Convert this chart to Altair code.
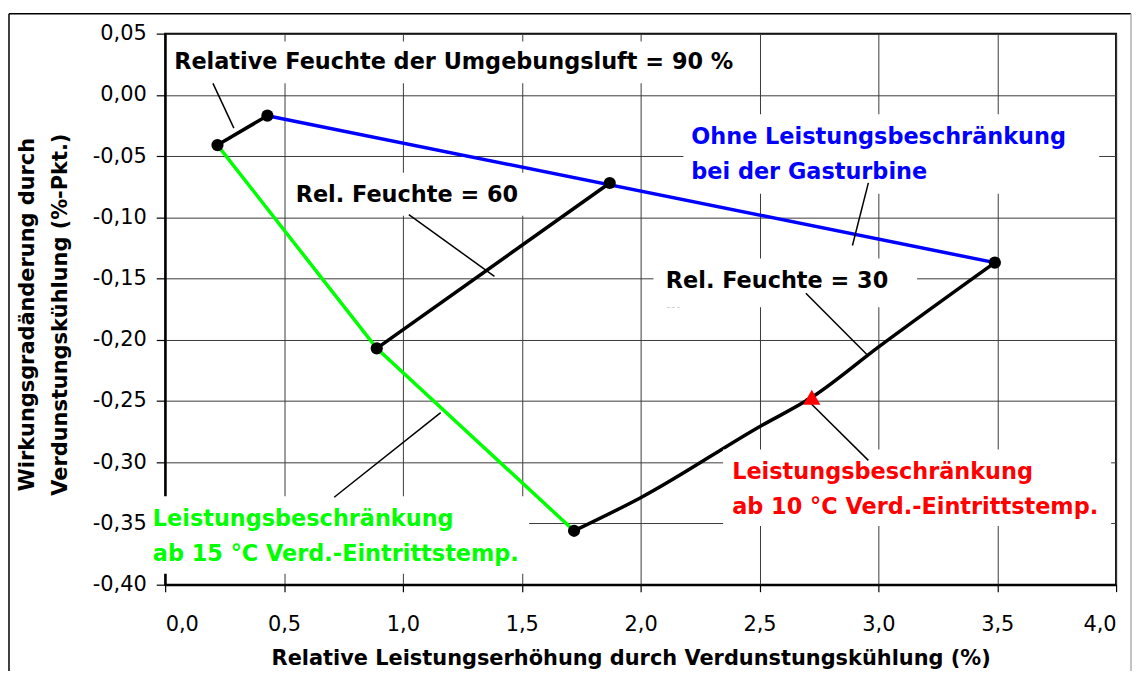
import altair as alt
import pandas as pd

# ---------------- data ----------------
# x = relative Leistungserhöhung (%), y = Wirkungsgradänderung (%-Pkt.)
rh90_x = [0.22, 0.43]
rh90_y = [-0.041, -0.017]
ohne_x = [0.43, 3.49]
ohne_y = [-0.017, -0.137]
rh60_x = [0.89, 1.87]
rh60_y = [-0.207, -0.072]
lb15_x = [0.22, 0.89, 1.72]
lb15_y = [-0.041, -0.207, -0.356]
rh30_x = [1.72, 2.00, 2.50, 2.72, 3.00, 3.49]
rh30_y = [-0.356, -0.329, -0.271, -0.247, -0.206, -0.137]
pt_x = [0.22, 0.43, 0.89, 1.87, 1.72, 3.49]
pt_y = [-0.041, -0.017, -0.207, -0.072, -0.356, -0.137]
lb10_x = [2.72]
lb10_y = [-0.247]

x_ticks = [0.0, 0.5, 1.0, 1.5, 2.0, 2.5, 3.0, 3.5, 4.0]
y_ticks = [0.05, 0.0, -0.05, -0.10, -0.15, -0.20, -0.25, -0.30, -0.35, -0.40]

# annotation texts
label_text = ["Relative Feuchte der Umgebungsluft = 90 %", "Rel. Feuchte = 60",
              "Ohne Leistungsbeschränkung", "bei der Gasturbine", "Rel. Feuchte = 30",
              "Leistungsbeschränkung", "ab 10 °C Verd.-Eintrittstemp.",
              "Leistungsbeschränkung", "ab 15 °C Verd.-Eintrittstemp."]
label_x = [0.038, 0.549, 2.213, 2.213, 2.106, 2.385, 2.385, -0.052, -0.052]
label_y = [0.0208, -0.0873, -0.0402, -0.0686, -0.158, -0.314, -0.3424, -0.3521, -0.3805]
label_color = ["#000000", "#000000", "#0000FF", "#0000FF", "#000000",
               "#FF0000", "#FF0000", "#00FF00", "#00FF00"]
# second line of the 30 % label, clipped by its text box in the reference
hidden_text = ["%"]
hidden_x = [2.106]
hidden_y = [-0.1825]

# white label boxes (data units); the last one clips the hidden "%" line
box_x = [0.017, 0.519, 2.18, 2.054, 2.347, -0.0586, 2.06]
box_x2 = [2.423, 1.515, 3.929, 3.163, 3.979, 1.531, 2.25]
box_y = [0.0435, -0.0637, -0.0158, -0.1336, -0.2896, -0.3277, -0.1734]
box_y2 = [0.0094, -0.0987, -0.0808, -0.1734, -0.3521, -0.3911, -0.1900]

# leader lines (data units)
lead_x = [0.201, 1.025, 2.958, 2.695, 2.695, 1.159]
lead_y = [0.0094, -0.0978, -0.0719, -0.162, -0.248, -0.2595]
lead_x2 = [0.289, 1.385, 2.891, 2.958, 2.958, 0.711]
lead_y2 = [-0.0272, -0.1482, -0.123, -0.2132, -0.2985, -0.3286]

# ---------------- tables ----------------
rows = []
for name, xs, ys, col in [("rh90", rh90_x, rh90_y, "#000000"),
                          ("ohne", ohne_x, ohne_y, "#0000FF"),
                          ("rh60", rh60_x, rh60_y, "#000000"),
                          ("lb15", lb15_x, lb15_y, "#00FF00")]:
    for i, (a, b) in enumerate(zip(xs, ys)):
        rows.append({"series": name, "i": i, "x": a, "y": b, "color": col})
lines_df = pd.DataFrame(rows)
rh30_df = pd.DataFrame({"x": rh30_x, "y": rh30_y, "i": list(range(len(rh30_x)))})
pts_df = pd.DataFrame({"x": pt_x, "y": pt_y})
tri_df = pd.DataFrame({"x": lb10_x, "y": lb10_y})
lab_df = pd.DataFrame({"text": label_text, "x": label_x, "y": label_y, "color": label_color})
hid_df = pd.DataFrame({"text": hidden_text, "x": hidden_x, "y": hidden_y})
box_df = pd.DataFrame({"x": box_x, "x2": box_x2, "y": box_y, "y2": box_y2})
lead_df = pd.DataFrame({"x": lead_x, "y": lead_y, "x2": lead_x2, "y2": lead_y2})

FONT = "DejaVu Sans"
LABEL_SIZE = 22.5

x_enc = alt.X("x:Q", scale=alt.Scale(domain=[0, 4], nice=False, zero=False),
              axis=alt.Axis(values=x_ticks,
                            labelExpr="replace(format(datum.value, '.1f'), '.', ',')",
                            tickSize=7, labelPadding=22,
                            title="Relative Leistungserhöhung durch Verdunstungskühlung (%)",
                            titleX=468, titleY=80, titleAlign="center",
                            titleBaseline="alphabetic"))
y_enc = alt.Y("y:Q", scale=alt.Scale(domain=[-0.40, 0.05], nice=False, zero=False),
              axis=alt.Axis(values=y_ticks,
                            labelExpr="replace(replace(format(datum.value, '.2f'), '.', ','), '\u2212', '-')",
                            tickSize=9, labelPadding=10,
                            title=["Wirkungsgradänderung durch", "Verdunstungskühlung (%-Pkt.)"],
                            titleAngle=270, titleX=-132, titleY=282, titleAlign="center",
                            titleBaseline="alphabetic", titleLineHeight=33))

lines = alt.Chart(lines_df).mark_line(strokeWidth=3.5).encode(
    x=x_enc, y=y_enc, detail="series:N", order="i:Q",
    color=alt.Color("color:N", scale=None))

line30 = alt.Chart(rh30_df).mark_line(strokeWidth=3.5, color="black",
                                      interpolate="monotone").encode(
    x=x_enc, y=y_enc, order="i:Q")

hidden = alt.Chart(hid_df).mark_text(align="left", baseline="alphabetic", font=FONT,
                                     fontWeight="bold", fontSize=LABEL_SIZE,
                                     color="black").encode(
    x=x_enc, y=y_enc, text="text:N")

boxes = alt.Chart(box_df).mark_rect(fill="white").encode(
    x=x_enc, x2="x2:Q", y=y_enc, y2="y2:Q")

texts = alt.Chart(lab_df).mark_text(align="left", baseline="alphabetic", font=FONT,
                                    fontWeight="bold", fontSize=LABEL_SIZE).encode(
    x=x_enc, y=y_enc, text="text:N", color=alt.Color("color:N", scale=None))

leaders = alt.Chart(lead_df).mark_rule(strokeWidth=1.5, color="black").encode(
    x=x_enc, y=y_enc, x2="x2:Q", y2="y2:Q")

points = alt.Chart(pts_df).mark_point(filled=True, shape="circle", size=150,
                                      color="black", opacity=1).encode(x=x_enc, y=y_enc)

tri = alt.Chart(tri_df).mark_point(filled=True, shape="triangle-up", size=300,
                                   color="#FF0000", opacity=1).encode(x=x_enc, y=y_enc)

# outer chart frame (decoration)
frame_df = pd.DataFrame({"k": [0]})
frame_top = alt.Chart(frame_df).mark_rule(color="black", strokeWidth=1.5).encode(
    x=alt.value(-157), x2=alt.value(971), y=alt.value(-20))
frame_left = alt.Chart(frame_df).mark_rule(color="black", strokeWidth=1.5).encode(
    x=alt.value(-157), y=alt.value(-20), y2=alt.value(700))
frame_right = alt.Chart(frame_df).mark_rule(color="#b0b0b0", strokeWidth=1.5).encode(
    x=alt.value(971), y=alt.value(-20), y2=alt.value(700))

chart = alt.layer(lines, line30, hidden, boxes, texts, leaders, points, tri,
                  frame_top, frame_left, frame_right).properties(
    width=956, height=554,
    background="white",
    autosize=alt.AutoSizeParams(type="none"),
    padding={"left": 158, "top": 24, "right": 17, "bottom": 85},
).configure_view(
    stroke="black", strokeWidth=2
).configure_axis(
    labelFont=FONT, labelFontSize=21, labelColor="black",
    titleFont=FONT, titleFontSize=21, titleFontWeight="bold", titleColor="black",
    domainColor="black", domainWidth=2, tickColor="black", tickWidth=1.2,
    gridColor="#3a3a3a", gridWidth=1, gridOpacity=1
)

chart.save("out.html", embed_options={"renderer": "svg", "actions": False})
